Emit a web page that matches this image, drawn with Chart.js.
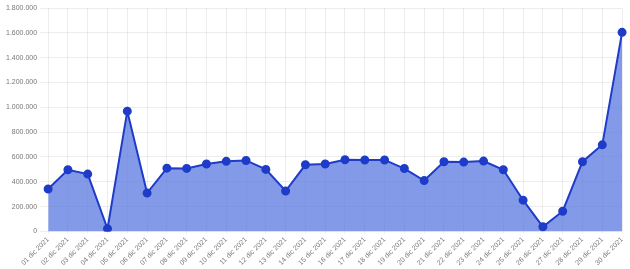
<!DOCTYPE html>
<html>
<head>
<meta charset="utf-8">
<script src="https://cdn.jsdelivr.net/npm/chart.js@4"></script>
<style>
html,body{margin:0;padding:0;background:#fff;}
#wrap{width:630px;height:269px;position:relative;}
</style>
</head>
<body>
<div id="wrap"><canvas id="c" width="630" height="269"></canvas></div>
<script>
const labels = ["01 dic 2021","02 dic 2021","03 dic 2021","04 dic 2021","05 dic 2021","06 dic 2021","07 dic 2021","08 dic 2021","09 dic 2021","10 dic 2021","11 dic 2021","12 dic 2021","13 dic 2021","14 dic 2021","15 dic 2021","16 dic 2021","17 dic 2021","18 dic 2021","19 dic 2021","20 dic 2021","21 dic 2021","22 dic 2021","23 dic 2021","24 dic 2021","25 dic 2021","26 dic 2021","27 dic 2021","28 dic 2021","29 dic 2021","30 dic 2021"];
const values = [342000,497000,462000,22000,969000,309000,510000,508000,543000,565000,572000,500000,326000,537000,543000,578000,576000,576000,507000,410000,562000,559000,567000,497000,252000,38000,163000,562000,698000,1604000];
const yMin = 0, yMax = 1800000, yStep = 200000;

function fmt(v){ return String(Math.round(v)).replace(/\B(?=(\d{3})+(?!\d))/g, "."); }

new Chart(document.getElementById('c'), {
  type: 'line',
  data: { labels: labels, datasets: [{
    data: values,
    borderColor: 'rgb(30,60,200)',
    backgroundColor: 'rgba(90,120,225,0.75)',
    fill: 'origin',
    borderWidth: 2,
    pointRadius: 3.5,
    pointBackgroundColor: 'rgb(30,60,200)',
    pointBorderColor: 'rgb(30,60,200)',
    tension: 0
  }]},
  options: {
    responsive: false,
    animation: false,
    devicePixelRatio: 1,
    layout: { padding: { top: 8, right: 3, left: 3, bottom: 0 } },
    plugins: { legend: { display: false }, tooltip: { enabled: false } },
    scales: {
      x: {
        grid: { color: 'rgba(0,0,0,0.07)', tickLength: 2 },
        border: { display: false },
        ticks: { padding: 2, color: '#777', font: { family: 'Liberation Sans', size: 7 }, minRotation: 45, maxRotation: 45, autoSkip: false }
      },
      y: {
        min: yMin, max: yMax,
        grid: { color: 'rgba(0,0,0,0.07)' },
        border: { display: false },
        ticks: { stepSize: yStep, color: '#777', font: { family: 'Liberation Sans', size: 7 }, callback: v => fmt(v) }
      }
    }
  }
});
</script>
</body>
</html>
